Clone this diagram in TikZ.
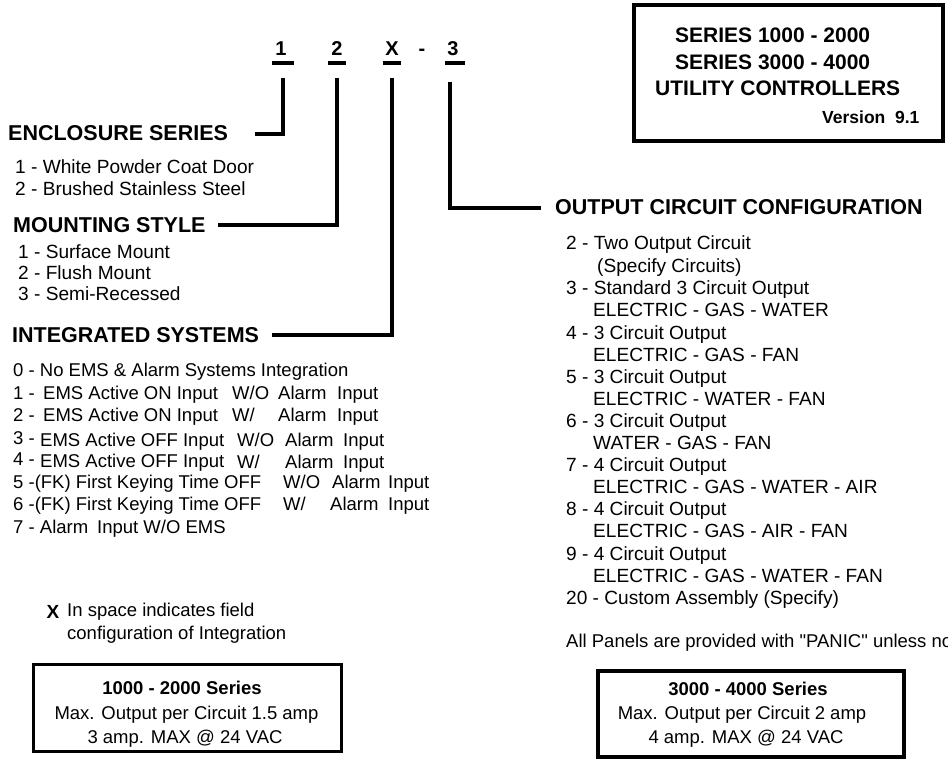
\documentclass[tikz,border=0pt]{standalone}
\usepackage{fontspec}
\setmainfont{Liberation Sans}
\newfontfamily\qfont{Liberation Sans}[Ligatures=Common]
\begin{document}
\begin{tikzpicture}[x=1pt,y=-1pt,
  txt/.style={inner sep=0pt, anchor=base west, yshift=-6.7pt, font=\fontsize{18.5}{22}\selectfont},
  txtl/.style={inner sep=0pt, anchor=base west, yshift=-6.9pt, font=\fontsize{19.1}{22}\selectfont},
  hd/.style={inner sep=0pt, anchor=base west, yshift=-7.6pt, font=\bfseries\fontsize{21.5}{24}\selectfont},
  tbt/.style={inner sep=0pt, anchor=base west, yshift=-7.5pt, font=\bfseries\fontsize{21}{24}\selectfont},
  code/.style={inner sep=0pt, anchor=base, yshift=-7.2pt, font=\bfseries\fontsize{20}{24}\selectfont},
  ctr/.style={inner sep=0pt, anchor=base, yshift=-6.7pt, font=\fontsize{18.5}{22}\selectfont},
  ctrb/.style={ctr, font=\bfseries\fontsize{18.5}{22}\selectfont},
  conn/.style={line width=3.3pt},
  uline/.style={line width=3.5pt},
  frame/.style={draw, line width=3.5pt, inner sep=0pt}]
\clip (0,0) rectangle (948,762);
\fill[white] (0,0) rectangle (948,762);

% ---- code at top
\node[code] (c1) at (281,48) {1};
\node[code] (c2) at (337,48) {2};
\node[code] (cX) at (392,48) {X};
\node[code] (cd) at (422,48) {-};
\node[code] (c3) at (453,48) {3};
\draw[uline] ([xshift=-9pt,yshift=-8pt]c1.base) -- ([xshift=13pt,yshift=-8pt]c1.base);
\draw[uline] ([xshift=-9pt,yshift=-8pt]c2.base) -- ([xshift=9pt,yshift=-8pt]c2.base);
\draw[uline] ([xshift=-9pt,yshift=-8pt]cX.base) -- ([xshift=9pt,yshift=-8pt]cX.base);
\draw[uline] ([xshift=-8pt,yshift=-8pt]c3.base) -- ([xshift=12pt,yshift=-8pt]c3.base);

% ---- headings
\node[hd] (enc) at (8,133) {ENCLOSURE SERIES};
\node[hd] (mnt) at (13,225) {MOUNTING STYLE};
\node[hd] (integ) at (12,335) {INTEGRATED SYSTEMS};
\node[hd] (outc) at (555,207) {OUTPUT CIRCUIT CONFIGURATION};

% ---- connectors
\coordinate (t1) at (283,78);
\coordinate (t2) at (337,78);
\coordinate (tX) at (392,78);
\coordinate (t3) at (450,82);
\coordinate (encL) at (255,134);
\coordinate (mntL) at (218,225);
\coordinate (integL) at (272,335);
\coordinate (outL) at (541,208);
\draw[conn] (t1) |- (encL);
\draw[conn] (t2) |- (mntL);
\draw[conn] (tX) |- (integL);
\draw[conn] (t3) |- (outL);

% ---- enclosure / mounting items
\node[txtl] (e1) at (15,167) {1 - White Powder Coat Door};
\node[txtl] (e2) at (15,189) {2 - Brushed Stainless Steel};
\node[txtl] (m1) at (18,252) {1 - Surface Mount};
\node[txtl] (m2) at (18,273) {2 - Flush Mount};
\node[txtl] (m3) at (18,294) {3 - Semi-Recessed};

% ---- integrated systems items
\node[txt] (i0) at (13,370) {0 - No EMS \& Alarm Systems Integration};
\node[txt] (i1a) at (13,393) {1 -};
\node[txt] (i1b) at (43,393) {EMS Active ON Input};
\node[txt] (i1c) at (232,393) {W/O};
\node[txt] (i1d) at (278,393) {Alarm};
\node[txt] (i1e) at (337,393) {Input};
\node[txt] (i2a) at (13,415) {2 -};
\node[txt] (i2b) at (43,415) {EMS Active ON Input};
\node[txt] (i2c) at (232,415) {W/};
\node[txt] (i2d) at (278,415) {Alarm};
\node[txt] (i2e) at (337,415) {Input};
\node[txt] (i3a) at (13,438) {3 -};
\node[txt] (i3b) at (40,440) {EMS Active OFF Input};
\node[txt] (i3c) at (237,440) {W/O};
\node[txt] (i3d) at (285,440) {Alarm};
\node[txt] (i3e) at (343,440) {Input};
\node[txt] (i4a) at (13,459) {4 -};
\node[txt] (i4b) at (40,461) {EMS Active OFF Input};
\node[txt] (i4c) at (237,462) {W/};
\node[txt] (i4d) at (285,462) {Alarm};
\node[txt] (i4e) at (343,462) {Input};
\node[txt] (i5a) at (13,482) {5 -(FK) First Keying Time OFF};
\node[txt] (i5c) at (283,482) {W/O};
\node[txt] (i5d) at (332,482) {Alarm};
\node[txt] (i5e) at (388,482) {Input};
\node[txt] (i6a) at (13,504) {6 -(FK) First Keying Time OFF};
\node[txt] (i6c) at (283,504) {W/};
\node[txt] (i6d) at (330,504) {Alarm};
\node[txt] (i6e) at (388,504) {Input};
\node[txt] (i7a) at (13,527) {7 - Alarm};
\node[txt] (i7b) at (97,527) {Input W/O EMS};

% ---- output circuit items
\node[txtl] (o1) at (566,243) {2 - Two Output Circuit};
\node[txtl] (o1s) at (597,265.5) {(Specify Circuits)};
\node[txtl] (o2) at (566,288) {3 - Standard 3 Circuit Output};
\node[txtl] (o2s) at (593,310) {ELECTRIC - GAS - WATER};
\node[txtl] (o3) at (566,332.5) {4 - 3 Circuit Output};
\node[txtl] (o3s) at (593,354.5) {ELECTRIC - GAS - FAN};
\node[txtl] (o4) at (566,377) {5 - 3 Circuit Output};
\node[txtl] (o4s) at (593,398.5) {ELECTRIC - WATER - FAN};
\node[txtl] (o5) at (566,420.5) {6 - 3 Circuit Output};
\node[txtl] (o5s) at (593,443) {WATER - GAS - FAN};
\node[txtl] (o6) at (566,465) {7 - 4 Circuit Output};
\node[txtl] (o6s) at (593,487) {ELECTRIC - GAS - WATER - AIR};
\node[txtl] (o7) at (566,509) {8 - 4 Circuit Output};
\node[txtl] (o7s) at (593,531) {ELECTRIC - GAS - AIR - FAN};
\node[txtl] (o8) at (566,553.5) {9 - 4 Circuit Output};
\node[txtl] (o8s) at (593,575.5) {ELECTRIC - GAS - WATER - FAN};
\node[txtl] (o9) at (566,598) {20 - Custom Assembly (Specify)};
\node[txt] (panic) at (566,641) {All Panels are provided with {\qfont"}PANIC{\qfont"} unless noted};

% ---- X note
\node[code, font=\bfseries\fontsize{19}{22}\selectfont] (xn) at (53,611) {X};
\node[txt] (xn1) at (67,610) {In space indicates field};
\node[txt] (xn2) at (67,633) {configuration of Integration};

% ---- title box
\node[frame, minimum width=309pt, minimum height=136pt] (tbox) at (788.5,73) {};
\node[tbt] (tb1) at (675,35) {SERIES 1000 - 2000};
\node[tbt] (tb2) at (675,62) {SERIES 3000 - 4000};
\node[tbt] (tb3) at (655,88) {UTILITY CONTROLLERS};
\node[inner sep=0pt, anchor=base west, yshift=-6.3pt, font=\bfseries\fontsize{17.5}{20}\selectfont] (tb4) at (822,117) {Version\ \ 9.1};

% ---- bottom boxes
\node[frame, minimum width=308pt, minimum height=87pt] (lbox) at (187.5,708) {};
\node[ctrb] (lb1) at (182,688) {1000 - 2000 Series};
\node[ctr] (lb2) at (186.5,713) {Max. Output per Circuit 1.5 amp};
\node[ctr] (lb3) at (185,737) {3 amp. MAX @ 24 VAC};

\node[frame, minimum width=306pt, minimum height=86pt] (rbox) at (751,714) {};
\node[ctrb] (rb1) at (748,689) {3000 - 4000 Series};
\node[ctr] (rb2) at (742,713) {Max. Output per Circuit 2 amp};
\node[ctr] (rb3) at (746,737) {4 amp. MAX @ 24 VAC};
\end{tikzpicture}
\end{document}
